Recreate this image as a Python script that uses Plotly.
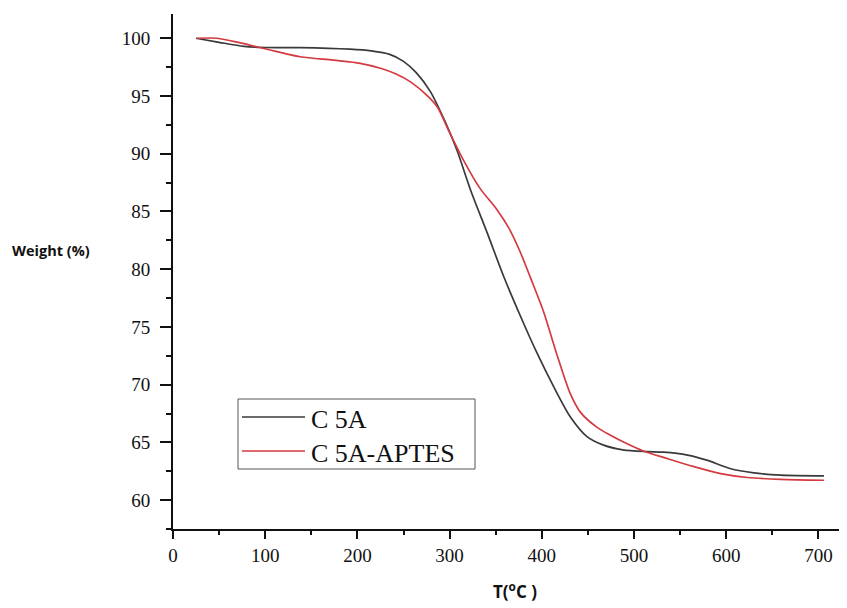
import plotly.graph_objects as go

# C 5A (black)
t_c5a = [25, 50, 77, 100, 138, 192, 215, 235, 250, 264, 279, 295, 308, 323, 341, 359, 377, 395, 413, 431, 449, 467, 488, 514, 532, 558, 579, 604, 630, 659, 706]
w_c5a = [100, 99.65, 99.3, 99.2, 99.19, 99.05, 98.9, 98.6, 98.0, 97.0, 95.4, 92.8, 90.3, 86.8, 83.1, 79.3, 75.9, 72.7, 69.8, 67.2, 65.5, 64.76, 64.35, 64.2, 64.15, 63.9, 63.46, 62.74, 62.36, 62.16, 62.1]

# C 5A-APTES (red)
t_apt = [26, 48, 73, 102, 138, 174, 203, 225, 242, 258, 276, 287, 299, 315, 333, 351, 364, 376, 388, 402, 416, 431, 442, 460, 475, 492, 510, 536, 565, 594, 623, 659, 706]
w_apt = [100, 100, 99.6, 99.05, 98.4, 98.1, 97.83, 97.4, 96.9, 96.2, 95.0, 94.0, 92.0, 89.45, 87.0, 85.2, 83.6, 81.6, 79.2, 76.3, 72.7, 69.2, 67.6, 66.3, 65.6, 64.9, 64.26, 63.6, 62.9, 62.3, 61.96, 61.8, 61.72]

series_names = ["C 5A", "C 5A-APTES"]
series_colors = ["#3a3a3a", "#d43a3f"]
x_ticks = [0, 100, 200, 300, 400, 500, 600, 700]
y_ticks = [60, 65, 70, 75, 80, 85, 90, 95, 100]

# page offset (default body margin of the html page)
OFF = 8
FW, FH = 847 - OFF, 608 - OFF
# plot-area geometry in screen pixels
L, R, T, B = 173, 847, 14, 529
PW, PH = R - L, B - T


def px(x):
    return (x - L) / PW


def py(y):
    return (B - y) / PH


fig = go.Figure()
fig.add_trace(go.Scatter(x=t_c5a, y=w_c5a, mode="lines", name=series_names[0], showlegend=False,
                         line=dict(color=series_colors[0], width=1.7, shape="spline", smoothing=0.8)))
fig.add_trace(go.Scatter(x=t_apt, y=w_apt, mode="lines", name=series_names[1], showlegend=False,
                         line=dict(color=series_colors[1], width=1.7, shape="spline", smoothing=0.8)))

serif = "Liberation Serif, Times New Roman, serif"
sans = "Open Sans, Liberation Sans, sans-serif"
axis_common = dict(showgrid=False, zeroline=False, showline=True, linecolor="#111",
                   linewidth=2, ticks="outside", tickcolor="#111", tickwidth=2, automargin=False,
                   tickfont=dict(family=serif, size=19, color="#111"))

fig.update_xaxes(range=[0, 731], tickvals=x_ticks, ticklen=8,
                 minor=dict(dtick=50, ticks="outside", ticklen=4, tickcolor="#111", tickwidth=2),
                 **axis_common)
fig.update_yaxes(range=[57.5, 102.1], tickvals=y_ticks, ticklen=11,
                 minor=dict(dtick=2.5, ticks="outside", ticklen=5, tickcolor="#111", tickwidth=2),
                 ticklabelstandoff=6,
                 **axis_common)

shapes = [
    # legend box
    dict(type="rect", xref="paper", yref="paper", x0=px(238), x1=px(475), y0=py(469), y1=py(399),
         line=dict(color="#555", width=1), fillcolor="white", layer="above"),
]
annotations = [
    dict(text="<b>Weight (%)</b>", x=px(51), y=py(250), xref="paper", yref="paper",
         xanchor="center", yanchor="middle",
         showarrow=False, font=dict(family=sans, size=14.5, color="#111")),
    dict(text="<b>T(<sup>o</sup>C )</b>", x=px(515), y=py(590), xref="paper", yref="paper",
         xanchor="center", yanchor="middle",
         showarrow=False, font=dict(family=sans, size=17, color="#111")),
]
legend_rows = [417, 451]
for name, color, yrow in zip(series_names, series_colors, legend_rows):
    shapes.append(dict(type="line", xref="paper", yref="paper", x0=px(242), x1=px(305),
                       y0=py(yrow), y1=py(yrow), line=dict(color=color, width=1.7), layer="above"))
    annotations.append(dict(text=name, x=px(309), y=py(yrow + 2), xref="paper", yref="paper",
                            xanchor="left", yanchor="middle", showarrow=False,
                            font=dict(family=serif, size=26, color="#111")))

fig.update_layout(
    width=FW, height=FH,
    margin=dict(l=L - OFF, r=847 - R, t=T - OFF, b=608 - B, autoexpand=False),
    paper_bgcolor="white", plot_bgcolor="white",
    showlegend=False,
    shapes=shapes,
    annotations=annotations,
)

fig.write_html("out.html")
